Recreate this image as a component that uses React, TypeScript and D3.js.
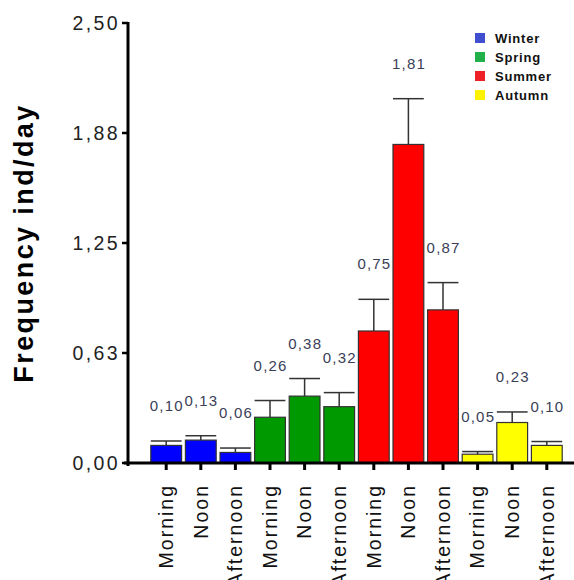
import React, { useEffect, useRef } from "react";
import * as d3 from "d3";

// data
const seasons = ["Winter", "Spring", "Summer", "Autumn"];
const periods = ["Morning", "Noon", "Afternoon"];
const barColors = ["#0000ff", "#009900", "#ff0000", "#ffff00"];
const legendColors = ["#3f4fd0", "#22b04a", "#ee2226", "#fff200"];

const means = [0.1, 0.13, 0.06, 0.26, 0.38, 0.32, 0.75, 1.81, 0.87, 0.05, 0.23, 0.1];
const errors = [0.025, 0.025, 0.025, 0.095, 0.1, 0.08, 0.18, 0.26, 0.155, 0.015, 0.06, 0.022];
const valueLabels = ["0,10", "0,13", "0,06", "0,26", "0,38", "0,32", "0,75", "1,81", "0,87", "0,05", "0,23", "0,10"];

const yTickValues = [0, 0.625, 1.25, 1.875, 2.5];
const yTickLabels = ["0,00", "0,63", "1,25", "1,88", "2,50"];

const FONT = "'Liberation Sans', Arial, sans-serif";

const App = () => {
  const ref = useRef<SVGSVGElement>(null);

  useEffect(() => {
    makeGraph();
  }, []);

  const makeGraph = () => {
    const width = 574;
    const height = 580;
    const margin = { top: 23, left: 128, bottom: 117, right: 0 };

    const svg = d3.select(ref.current).attr("width", width).attr("height", height);
    svg.selectAll("*").remove();

    const rows = means.map((m, i) => ({
      id: i,
      season: Math.floor(i / 3),
      period: periods[i % 3],
      mean: m,
      err: errors[i],
      label: valueLabels[i],
    }));

    const x = d3
      .scaleBand<number>()
      .domain(rows.map((d) => d.id))
      .range([147, 566])
      .paddingInner(0.11)
      .paddingOuter(0.11);

    const y = d3
      .scaleLinear()
      .domain([0, 2.5])
      .range([height - margin.bottom, margin.top]);

    // bars
    svg
      .append("g")
      .selectAll("rect")
      .data(rows)
      .enter()
      .append("rect")
      .attr("x", (d) => x(d.id)!)
      .attr("y", (d) => y(d.mean))
      .attr("width", x.bandwidth())
      .attr("height", (d) => y(0) - y(d.mean))
      .attr("fill", (d) => barColors[d.season])
      .attr("stroke", "#333")
      .attr("stroke-width", 1.2);

    // error bars (upper only)
    const err = svg.append("g").attr("stroke", "#333").attr("stroke-width", 1.5);
    err
      .selectAll("line.v")
      .data(rows)
      .enter()
      .append("line")
      .attr("x1", (d) => x(d.id)! + x.bandwidth() / 2)
      .attr("x2", (d) => x(d.id)! + x.bandwidth() / 2)
      .attr("y1", (d) => y(d.mean))
      .attr("y2", (d) => y(d.mean + d.err));
    err
      .selectAll("line.c")
      .data(rows)
      .enter()
      .append("line")
      .attr("x1", (d) => x(d.id)!)
      .attr("x2", (d) => x(d.id)! + x.bandwidth())
      .attr("y1", (d) => y(d.mean + d.err))
      .attr("y2", (d) => y(d.mean + d.err));

    // value labels
    svg
      .append("g")
      .selectAll("text")
      .data(rows)
      .enter()
      .append("text")
      .attr("x", (d) => x(d.id)! + x.bandwidth() / 2 + 0.6)
      .attr("y", (d) => y(d.mean + d.err) - 30)
      .attr("text-anchor", "middle")
      .attr("font-family", FONT)
      .attr("font-size", 15)
      .attr("letter-spacing", 1.2)
      .attr("fill", "#3a4058")
      .text((d) => d.label);

    // y axis
    const yAxis = svg.append("g").attr("transform", `translate(${margin.left}, 0)`);
    yAxis
      .append("line")
      .attr("x1", 0)
      .attr("x2", 0)
      .attr("y1", y(2.5) - 1)
      .attr("y2", y(0) + 3)
      .attr("stroke", "#000")
      .attr("stroke-width", 3);
    const yt = yAxis.selectAll("g.tick").data(yTickValues).enter().append("g").attr("transform", (d) => `translate(0, ${y(d)})`);
    yt.append("line").attr("x1", -6).attr("x2", 0).attr("stroke", "#000").attr("stroke-width", 2.5);
    yt.append("text")
      .attr("x", -8)
      .attr("dy", "0.35em")
      .attr("text-anchor", "end")
      .attr("font-family", FONT)
      .attr("font-size", 19.5)
      .attr("letter-spacing", 2.4)
      .attr("fill", "#222")
      .text((d, i) => yTickLabels[i]);

    // x axis
    const xAxis = svg.append("g").attr("transform", `translate(0, ${y(0)})`);
    xAxis
      .append("line")
      .attr("x1", margin.left - 4)
      .attr("x2", width)
      .attr("stroke", "#000")
      .attr("stroke-width", 3);
    const xt = xAxis.selectAll("g.tick").data(rows).enter().append("g").attr("transform", (d) => `translate(${x(d.id)! + x.bandwidth() / 2}, 0)`);
    xt.append("line").attr("y1", 0).attr("y2", 7).attr("stroke", "#000").attr("stroke-width", 3);
    xt.append("text")
      .attr("transform", "translate(0, 21) rotate(-90)")
      .attr("dy", "0.35em")
      .attr("text-anchor", "end")
      .attr("font-family", FONT)
      .attr("font-size", 19.5)
      .attr("letter-spacing", 2)
      .attr("fill", "#111")
      .text((d) => d.period);

    // y title
    svg
      .append("text")
      .attr("transform", `translate(33, 243) rotate(-90)`)
      .attr("text-anchor", "middle")
      .attr("font-family", FONT)
      .attr("font-weight", "bold")
      .attr("font-size", 27)
      .attr("letter-spacing", 2.4)
      .attr("fill", "#000")
      .text("Frequency ind/day");

    // legend
    const legend = svg
      .append("g")
      .selectAll("g")
      .data(seasons)
      .enter()
      .append("g")
      .attr("transform", (d, i) => `translate(475, ${33 + i * 19})`);
    legend.append("rect").attr("width", 10).attr("height", 10).attr("fill", (d, i) => legendColors[i]);
    legend
      .append("text")
      .attr("x", 20)
      .attr("y", 5)
      .attr("dy", "0.35em")
      .attr("font-family", FONT)
      .attr("font-weight", "bold")
      .attr("font-size", 13)
      .attr("letter-spacing", 0.8)
      .attr("fill", "#111")
      .text((d) => d);
  };

  return <svg ref={ref} style={{ position: "absolute", left: 0, top: 0, background: "#fff" }}></svg>;
};

export default App;
